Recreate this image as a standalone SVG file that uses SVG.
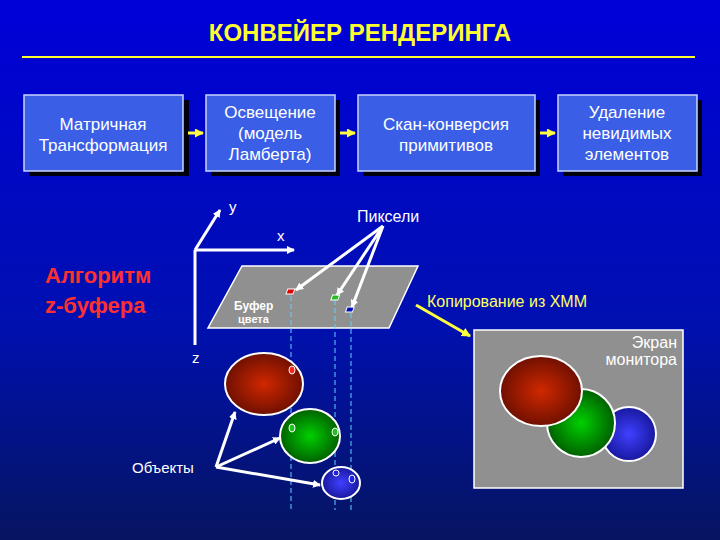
<svg xmlns="http://www.w3.org/2000/svg" width="720" height="540" viewBox="0 0 720 540">
<defs>
<linearGradient id="bg" x1="0" y1="0" x2="0" y2="1"><stop offset="0" stop-color="#0000d8"/><stop offset="0.6" stop-color="#0010b0"/><stop offset="1" stop-color="#061560"/></linearGradient>
<radialGradient id="rg"><stop offset="0" stop-color="#d02800"/><stop offset="1" stop-color="#701000"/></radialGradient>
<radialGradient id="gg"><stop offset="0" stop-color="#00d000"/><stop offset="1" stop-color="#006000"/></radialGradient>
<radialGradient id="bgr"><stop offset="0" stop-color="#4040ff"/><stop offset="1" stop-color="#1818a0"/></radialGradient>
<marker id="wa" markerWidth="8" markerHeight="8" refX="7" refY="4" orient="auto" markerUnits="userSpaceOnUse"><path d="M0,0 L8,4 L0,8 z" fill="#fff"/></marker>
<marker id="ya" markerWidth="9" markerHeight="9" refX="8" refY="4.5" orient="auto" markerUnits="userSpaceOnUse"><path d="M0,0 L9,4.5 L0,9 z" fill="#ffff40"/></marker>
<style>
.box{fill:#3a5fe6;stroke:#c8d4ff;stroke-width:1.5}
.sh{fill:#000010}
.bt{font-family:"Liberation Sans",Arial,sans-serif;font-size:17px;fill:#fff;text-anchor:middle}
.t{font-family:"Liberation Sans",Arial,sans-serif;fill:#fff}
.w{stroke:#fff;stroke-width:3;fill:none}
.ol{stroke:#fff;stroke-width:2}
.dash{stroke:#60d0ff;stroke-width:1;stroke-dasharray:5,3}
</style>
</defs>
<rect width="720" height="540" fill="url(#bg)"/>
<text x="360" y="41" text-anchor="middle" font-family="Liberation Sans,Arial,sans-serif" font-size="24" font-weight="bold" fill="#ffff30">КОНВЕЙЕР РЕНДЕРИНГА</text>
<line x1="22" y1="57" x2="695" y2="57" stroke="#ffff30" stroke-width="2"/>
<g id="n1"><rect class="sh" x="29" y="100" width="160" height="76"/><rect class="box" x="24" y="95" width="159" height="76"/><text class="bt" x="103" y="130">Матричная</text><text class="bt" x="103" y="151">Трансформация</text></g>
<g id="n2"><rect class="sh" x="211" y="100" width="129" height="76"/><rect class="box" x="206" y="95" width="129" height="76"/><text class="bt" x="270" y="118">Освещение</text><text class="bt" x="270" y="139">(модель</text><text class="bt" x="270" y="160">Ламберта)</text></g>
<g id="n3"><rect class="sh" x="363" y="100" width="177" height="76"/><rect class="box" x="358" y="95" width="177" height="76"/><text class="bt" x="446" y="130">Скан-конверсия</text><text class="bt" x="446" y="151">примитивов</text></g>
<g id="n4"><rect class="sh" x="563" y="100" width="139" height="76"/><rect class="box" x="558" y="95" width="139" height="76"/><text class="bt" x="627" y="118">Удаление</text><text class="bt" x="627" y="139">невидимых</text><text class="bt" x="627" y="160">элементов</text></g>
<g id="connectors">
<line x1="188" y1="133" x2="203" y2="133" stroke="#ffff40" stroke-width="3" marker-end="url(#ya)"/>
<line x1="340" y1="133" x2="355" y2="133" stroke="#ffff40" stroke-width="3" marker-end="url(#ya)"/>
<line x1="540" y1="133" x2="555" y2="133" stroke="#ffff40" stroke-width="3" marker-end="url(#ya)"/>
</g>
<text class="t" x="45" y="283" font-size="22" font-weight="bold" style="fill:#ff3030">Алгоритм</text>
<text class="t" x="45" y="313" font-size="22" font-weight="bold" style="fill:#ff3030">z-буфера</text>
<line class="w" x1="195" y1="250" x2="195" y2="345"/>
<line class="w" x1="195" y1="250" x2="220" y2="210" marker-end="url(#wa)"/>
<line class="w" x1="195" y1="250" x2="294" y2="250" marker-end="url(#wa)"/>
<text class="t" x="229" y="212" font-size="15">y</text>
<text class="t" x="277" y="241" font-size="15">x</text>
<text class="t" x="192" y="363" font-size="15">z</text>
<polygon points="242,266 418,266 389,328 208,328" fill="#909090" stroke="#fff" stroke-width="1.5"/>
<text class="t" x="234" y="310" font-size="12" font-weight="bold">Буфер</text>
<text class="t" x="238" y="323" font-size="11" font-weight="bold">цвета</text>
<line class="dash" x1="291" y1="296" x2="291" y2="510"/>
<line class="dash" x1="335" y1="300" x2="335" y2="510"/>
<line class="dash" x1="351" y1="313" x2="351" y2="510"/>
<rect x="288" y="289" width="7" height="5" fill="#e00000" stroke="#fff" transform="skewX(-20) translate(105 0)"/>
<rect x="332" y="295" width="7" height="5" fill="#20c020" stroke="#fff" transform="skewX(-20) translate(108 0)"/>
<rect x="347" y="307" width="7" height="5" fill="#0010c0" stroke="#fff" transform="skewX(-20) translate(112 0)"/>
<text class="t" x="357" y="222" font-size="16">Пиксели</text>
<line class="w" x1="383" y1="226" x2="296" y2="290" marker-end="url(#wa)"/>
<line class="w" x1="383" y1="226" x2="337" y2="295" marker-end="url(#wa)"/>
<line class="w" x1="383" y1="226" x2="352" y2="307" marker-end="url(#wa)"/>
<line x1="416" y1="305" x2="470" y2="336" stroke="#ffff40" stroke-width="3" marker-end="url(#ya)"/>
<text x="427" y="307" font-family="Liberation Sans,Arial,sans-serif" font-size="16" fill="#ffff60">Копирование из ХММ</text>
<ellipse cx="264" cy="384" rx="39" ry="31" fill="url(#rg)" class="ol"/>
<ellipse cx="310" cy="436" rx="30" ry="27" fill="url(#gg)" class="ol"/>
<ellipse cx="341" cy="483" rx="19" ry="16" fill="url(#bgr)" class="ol"/>
<ellipse cx="292" cy="370" rx="3" ry="4" fill="#ff2020" stroke="#fff"/>
<ellipse cx="292" cy="428" rx="3" ry="4" fill="#20c020" stroke="#fff"/>
<ellipse cx="335" cy="432" rx="3" ry="4" fill="#20c020" stroke="#fff"/>
<ellipse cx="336" cy="473" rx="3" ry="3" fill="#2020e0" stroke="#fff"/>
<ellipse cx="352" cy="479" rx="3" ry="4" fill="#2020e0" stroke="#fff"/>
<text class="t" x="132" y="473" font-size="15">Объекты</text>
<line class="w" x1="216" y1="467" x2="235" y2="412" marker-end="url(#wa)"/>
<line class="w" x1="216" y1="467" x2="280" y2="438" marker-end="url(#wa)"/>
<line class="w" x1="216" y1="467" x2="320" y2="485" marker-end="url(#wa)"/>
<rect x="474" y="330" width="209" height="158" fill="#909090" stroke="#fff" stroke-width="1.5"/>
<text class="t" x="677" y="348" font-size="16" text-anchor="end">Экран</text>
<text class="t" x="677" y="365" font-size="16" text-anchor="end">монитора</text>
<circle cx="629" cy="434" r="27" fill="url(#bgr)" class="ol"/>
<circle cx="581" cy="423" r="34" fill="url(#gg)" class="ol"/>
<ellipse cx="541" cy="391" rx="41" ry="35" fill="url(#rg)" class="ol"/>
</svg>
